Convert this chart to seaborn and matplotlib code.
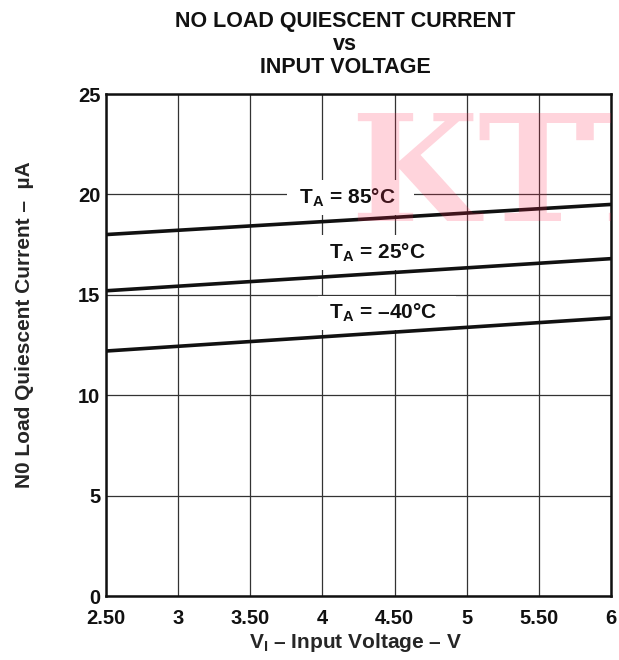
import matplotlib
matplotlib.use('Agg')
import matplotlib.pyplot as plt
import seaborn as sns
import pandas as pd

# ---- data ----
voltage = [2.5, 6.0]
current_85 = [18.0, 19.5]
current_25 = [15.2, 16.8]
current_m40 = [12.2, 13.85]
series_names = ['85', '25', '-40']
series_labels = ['T$_\\mathregular{A}$ = 85°C', 'T$_\\mathregular{A}$ = 25°C', 'T$_\\mathregular{A}$ = –40°C']
label_x = [3.84, 4.05, 4.05]
label_y = [19.55, 16.8, 13.8]
xticks = [2.5, 3, 3.5, 4, 4.5, 5, 5.5, 6]
xtick_labels = ['2.50', '3', '3.50', '4', '4.50', '5', '5.50', '6']
yticks = [0, 5, 10, 15, 20, 25]
ytick_labels = ['0', '5', '10', '15', '20', '25']

df = pd.DataFrame({
    'V': voltage * 3,
    'I': current_85 + current_25 + current_m40,
    'T': [series_names[0]] * 2 + [series_names[1]] * 2 + [series_names[2]] * 2,
})

sns.set_theme(style='white')
plt.rcParams['font.family'] = ['Liberation Sans', 'DejaVu Sans']
plt.rcParams['font.weight'] = 'bold'
plt.rcParams['mathtext.fontset'] = 'custom'
plt.rcParams['mathtext.rm'] = 'Liberation Sans:bold'
plt.rcParams['mathtext.it'] = 'Liberation Sans:bold'
plt.rcParams['mathtext.bf'] = 'Liberation Sans:bold'

fig = plt.figure(figsize=(6.19, 6.60), dpi=100)
ax = fig.add_axes([106 / 619, 1 - 596 / 660, 505 / 619, 502 / 660])

sns.lineplot(data=df, x='V', y='I', hue='T', palette=['#111111'] * 3,
             linewidth=2.6, legend=False, ax=ax, zorder=4)

ax.set_xlim(2.5, 6)
ax.set_ylim(0, 25)
ax.set_xticks(xticks)
ax.set_xticklabels(xtick_labels, fontsize=14.5, fontweight='bold')
ax.set_yticks(yticks)
ax.set_yticklabels(ytick_labels, fontsize=14.5, fontweight='bold')
ax.tick_params(axis='x', length=0, pad=9, colors='#111111')
ax.tick_params(axis='y', length=0, pad=4, colors='#111111')
ax.grid(True, color='#333333', linewidth=0.9)
ax.set_axisbelow(True)
for s in ax.spines.values():
    s.set_color('#111111')
    s.set_linewidth(1.8)

ax.set_xlabel('V$_\\mathregular{I}$ – Input Voltage – V', fontsize=15, fontweight='bold')
ax.xaxis.set_label_coords(0.495, -0.07)
ax.set_ylabel('N0 Load Quiescent Current –  µA', fontsize=15, fontweight='bold')
ax.yaxis.set_label_coords(-0.162, 0.54)
ax.yaxis.label.set_va('center')

for lx, ly, lab in zip(label_x, label_y, series_labels):
    ax.text(lx - 0.04, ly, ' ' + lab + '   ', fontsize=15, fontweight='bold', ha='left', va='baseline',
            color='#111111', zorder=3,
            bbox=dict(facecolor='white', edgecolor='none', boxstyle='square,pad=0.3'))

# watermark
ax.text(4.19, 18.7, 'KTT', fontfamily='DejaVu Serif', fontweight='bold', fontsize=106,
        color='#FF2850', alpha=0.2, zorder=5, clip_on=True, ha='left', va='baseline')

fig.text(345 / 619, 1 - 11 / 660, 'NO LOAD QUIESCENT CURRENT\nvs\nINPUT VOLTAGE',
         ha='center', va='top', fontsize=15.5, fontweight='bold', linespacing=1.12,
         color='#111111')

fig.savefig('out.png', dpi=100, facecolor='white')
